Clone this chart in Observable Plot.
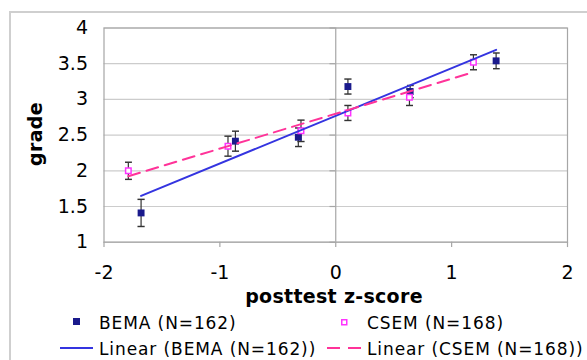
<!DOCTYPE html>
<html>
<head>
<meta charset="utf-8">
<script src="https://cdn.jsdelivr.net/npm/d3@7"></script>
<script src="https://cdn.jsdelivr.net/npm/@observablehq/plot@0.6"></script>
<style>
  html, body { margin: 0; padding: 0; background: white; }
  #wrap { position: relative; width: 587px; height: 360px; overflow: hidden; font-family: "DejaVu Sans", Verdana, sans-serif; }
  #outer { position: absolute; left: 9px; top: 11px; width: 700px; height: 500px; border-left: 2px solid #cfcfcf; border-top: 2px solid #cfcfcf; }
  #chart { position: absolute; left: 0; top: 0; }
  .t { position: absolute; white-space: nowrap; color: #000; }
  .leg { font-size: 17px; line-height: 17px; letter-spacing: 0.9px; }
  .ttl { font-size: 19px; line-height: 19px; font-weight: bold; letter-spacing: 0.3px; }
  .sw { position: absolute; }
</style>
</head>
<body>
<div id="wrap">
  <div id="outer"></div>
  <div id="chart"></div>
</div>
<script>
// Data
const bemaX = [-1.68, -0.866, -0.323, 0.105, 0.642, 1.384];
const bemaY = [1.41, 2.415, 2.47, 3.18, 3.11, 3.54];
const bemaErr = [0.19, 0.14, 0.13, 0.105, 0.085, 0.11];

const csemX = [-1.79, -0.93, -0.30, 0.105, 0.636, 1.188];
const csemY = [2.0, 2.345, 2.56, 2.81, 3.03, 3.52];
const csemErr = [0.12, 0.14, 0.15, 0.105, 0.115, 0.105];

const xTicks = [-2, -1, 0, 1, 2];
const yTicks = [1, 1.5, 2, 2.5, 3, 3.5, 4];

const seriesNames = ["BEMA (N=162)", "CSEM (N=168)"];
const trendNames = ["Linear (BEMA (N=162))", "Linear (CSEM (N=168))"];
const xTitle = "posttest z-score";
const yTitle = "grade";

const bema = bemaX.map((x, i) => ({x, y: bemaY[i], e: bemaErr[i]}));
const csem = csemX.map((x, i) => ({x, y: csemY[i], e: csemErr[i]}));

const BEMA_FILL = "#1a1a8c";
const BEMA_LINE = "#3434e0";
const CSEM_STROKE = "#ff33ff";
const CSEM_LINE = "#ff3399";
const AXIS = "#a6a6a6";
const GRID = "#cccccc";
const FONT = "DejaVu Sans, Verdana, sans-serif";

const chart = Plot.plot({
  width: 587,
  height: 360,
  marginLeft: 103.5,
  marginRight: 20,
  marginTop: 27.5,
  marginBottom: 118.3,
  style: {fontFamily: FONT, fontSize: "19px", color: "black", background: "transparent", overflow: "visible"},
  x: {domain: [-2, 2]},
  y: {domain: [1, 4]},
  marks: [
    Plot.ruleY(yTicks, {stroke: GRID, strokeWidth: 1.2}),
    Plot.frame({stroke: AXIS, strokeWidth: 1.2}),
    Plot.ruleX([0], {stroke: AXIS, strokeWidth: 1.2}),
    Plot.ruleY(yTicks, {x1: -0.05, x2: 0, stroke: AXIS, strokeWidth: 1.2}),
    Plot.ruleX(xTicks, {y1: 1, y2: 0.925, stroke: AXIS, strokeWidth: 1.2}),
    Plot.axisY({ticks: yTicks, tickSize: 0, tickPadding: 16, tickFormat: d => String(d), label: null, fontSize: 19, fontFamily: FONT}),
    Plot.axisX({ticks: xTicks, tickSize: 0, tickPadding: 23, tickFormat: d => String(d), label: null, fontSize: 19, fontFamily: FONT}),
    // error bars
    Plot.link(bema, {x1: "x", x2: "x", y1: d => d.y - d.e, y2: d => d.y + d.e, stroke: "#333", strokeWidth: 1.2, markerStart: "tick-x", markerEnd: "tick-x"}),
    Plot.link(csem, {x1: "x", x2: "x", y1: d => d.y - d.e, y2: d => d.y + d.e, stroke: "#333", strokeWidth: 1.2, markerStart: "tick-x", markerEnd: "tick-x"}),
    // points
    Plot.dot(bema, {x: "x", y: "y", symbol: "square", r: 3.9, fill: BEMA_FILL, stroke: null}),
    Plot.dot(csem, {x: "x", y: "y", symbol: "square", r: 3.1, fill: "white", stroke: CSEM_STROKE, strokeWidth: 1.5}),
    // trend lines
    Plot.linearRegressionY(bema, {x: "x", y: "y", ci: 0, stroke: BEMA_LINE, strokeWidth: 2}),
    Plot.linearRegressionY(csem, {x: "x", y: "y", ci: 0, stroke: CSEM_LINE, strokeWidth: 2, strokeDasharray: "12,7"})
  ]
});
document.getElementById("chart").appendChild(chart);

const wrap = document.getElementById("wrap");
function addText(cls, text, css) {
  const d = document.createElement("div");
  d.className = "t " + cls;
  d.textContent = text;
  Object.assign(d.style, css);
  wrap.appendChild(d);
  return d;
}
function addSwatch(svgInner, css, w, h) {
  const d = document.createElement("div");
  d.className = "sw";
  Object.assign(d.style, css);
  d.innerHTML = `<svg width="${w}" height="${h}" style="display:block;overflow:visible">${svgInner}</svg>`;
  wrap.appendChild(d);
}

// axis titles
addText("ttl", xTitle, {left: "184px", width: "300px", textAlign: "center", top: "287px"});
addText("ttl", yTitle, {left: "-15px", width: "100px", height: "20px", lineHeight: "20px", textAlign: "center", top: "124px", transform: "rotate(-90deg)", transformOrigin: "50% 50%"});

// legend
addSwatch(`<rect x="0" y="0" width="7" height="7" fill="${BEMA_FILL}"/>`, {left: "73px", top: "318px"}, 7, 7);
addText("leg", seriesNames[0], {left: "99px", top: "315px"});
addSwatch(`<rect x="0.75" y="0.75" width="5" height="5" fill="white" stroke="${CSEM_STROKE}" stroke-width="1.5"/>`, {left: "341px", top: "318.5px"}, 7, 7);
addText("leg", seriesNames[1], {left: "367px", top: "315px"});

addSwatch(`<line x1="0" y1="1" x2="33" y2="1" stroke="${BEMA_LINE}" stroke-width="2"/>`, {left: "60px", top: "347px"}, 33, 2);
addText("leg", trendNames[0], {left: "99px", top: "341px"});
addSwatch(`<line x1="0" y1="1" x2="34" y2="1" stroke="${CSEM_LINE}" stroke-width="2" stroke-dasharray="13,8"/>`, {left: "327px", top: "347px"}, 34, 2);
addText("leg", trendNames[1], {left: "367px", top: "341px"});
</script>
</body>
</html>
